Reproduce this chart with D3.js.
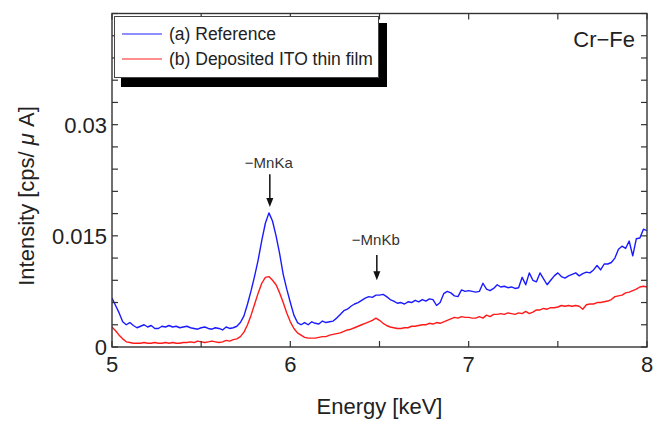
<!DOCTYPE html>
<html>
<head>
<meta charset="utf-8">
<script src="https://cdn.jsdelivr.net/npm/d3@7"></script>
<style>
  body { margin: 0; background: #fff; }
  svg { display: block; font-family: "Liberation Sans", Arial, sans-serif; }
</style>
</head>
<body>
<svg id="chart" width="654" height="423"></svg>
<script>
// XRF spectrum channels: 5.00 – 8.00 keV in 0.02 keV steps
const energyStart = 5.0;
const energyStep = 0.02;

// (a) Reference  [cps/μA]
const referenceCounts = [
  0.0066, 0.0056, 0.0046, 0.0034, 0.0030, 0.0033, 0.0029, 0.0026, 0.0028, 0.0030,
  0.0027, 0.0029, 0.0025, 0.0025, 0.0028, 0.0027, 0.0029, 0.0027, 0.0028, 0.0026,
  0.0027, 0.0028, 0.0026, 0.0025, 0.0024, 0.0026, 0.0027, 0.0025, 0.0024, 0.0026,
  0.0025, 0.0023, 0.0027, 0.0025, 0.0026, 0.0028, 0.0033, 0.0042, 0.0058, 0.0076,
  0.0096, 0.0118, 0.0144, 0.0167, 0.0181, 0.0170, 0.0150, 0.0126, 0.0098, 0.0078,
  0.0060, 0.0043, 0.0033, 0.0030, 0.0033, 0.0030, 0.0034, 0.0032, 0.0031, 0.0035,
  0.0033, 0.0034, 0.0035, 0.0039, 0.0044, 0.0049, 0.0051, 0.0055, 0.0058, 0.0060,
  0.0063, 0.0066, 0.0068, 0.0067, 0.0070, 0.0070, 0.0071, 0.0068, 0.0064, 0.0062,
  0.0059, 0.0060, 0.0058, 0.0061, 0.0060, 0.0063, 0.0061, 0.0064, 0.0062, 0.0065,
  0.0064, 0.0056, 0.0060, 0.0072, 0.0075, 0.0073, 0.0069, 0.0068, 0.0077, 0.0075,
  0.0076, 0.0075, 0.0074, 0.0075, 0.0086, 0.0078, 0.0076, 0.0079, 0.0084, 0.0081,
  0.0082, 0.0080, 0.0081, 0.0079, 0.0080, 0.0094, 0.0084, 0.0100, 0.0090, 0.0088,
  0.0100, 0.0092, 0.0084, 0.0090, 0.0096, 0.0100, 0.0095, 0.0093, 0.0096, 0.0098,
  0.0100, 0.0096, 0.0099, 0.0101, 0.0100, 0.0104, 0.0110, 0.0104, 0.0112, 0.0112,
  0.0114, 0.0120, 0.0132, 0.0136, 0.0133, 0.0143, 0.0123, 0.0146, 0.0147, 0.0159,
  0.0157
];

// (b) Deposited ITO thin film  [cps/μA]
const filmCounts = [
  0.0027, 0.0022, 0.0016, 0.0011, 0.0007, 0.0006, 0.0005, 0.0005, 0.0005, 0.0006,
  0.0005, 0.0005, 0.0006, 0.0005, 0.0005, 0.0006, 0.0005, 0.0006, 0.0005, 0.0005,
  0.0006, 0.0006, 0.0007, 0.0006, 0.0008, 0.0007, 0.0006, 0.0007, 0.0008, 0.0007,
  0.0006, 0.0007, 0.0009, 0.0008, 0.0010, 0.0011, 0.0014, 0.0020, 0.0030, 0.0043,
  0.0058, 0.0073, 0.0086, 0.0094, 0.0095, 0.0090, 0.0084, 0.0073, 0.0060, 0.0046,
  0.0034, 0.0025, 0.0019, 0.0016, 0.0013, 0.0012, 0.0012, 0.0012, 0.0013, 0.0014,
  0.0014, 0.0016, 0.0017, 0.0018, 0.0019, 0.0021, 0.0023, 0.0024, 0.0026, 0.0028,
  0.0030, 0.0032, 0.0034, 0.0036, 0.0039, 0.0036, 0.0032, 0.0029, 0.0027, 0.0026,
  0.0025, 0.0025, 0.0026, 0.0026, 0.0028, 0.0028, 0.0029, 0.0030, 0.0030, 0.0032,
  0.0031, 0.0033, 0.0032, 0.0034, 0.0036, 0.0038, 0.0040, 0.0039, 0.0041, 0.0040,
  0.0040, 0.0039, 0.0039, 0.0041, 0.0039, 0.0043, 0.0041, 0.0044, 0.0044, 0.0045,
  0.0044, 0.0046, 0.0045, 0.0044, 0.0046, 0.0045, 0.0048, 0.0045, 0.0047, 0.0050,
  0.0050, 0.0052, 0.0051, 0.0053, 0.0053, 0.0054, 0.0056, 0.0055, 0.0056, 0.0055,
  0.0056, 0.0055, 0.0051, 0.0057, 0.0058, 0.0058, 0.0060, 0.0060, 0.0061, 0.0062,
  0.0064, 0.0068, 0.0069, 0.0070, 0.0073, 0.0074, 0.0076, 0.0078, 0.0081, 0.0082,
  0.0081
];

const seriesNames = ["(a) Reference", "(b) Deposited ITO thin film"];
const seriesColors = ["#1a1aff", "#ff1a1a"];

const xTickValues = [5, 6, 7, 8];
const xTickLabels = ["5", "6", "7", "8"];
const xMinorTicks = [5, 5.5, 6, 6.5, 7, 7.5, 8];
const yTickValues = [0, 0.015, 0.03];
const yTickLabels = ["0", "0.015", "0.03"];
const yMinorTicks = d3.range(0, 0.0451, 0.003);

// Peak markers: label, energy, arrow top / tip intensities, label baseline
const peakLabels = ["−MnKa", "−MnKb"];
const peakEnergies = [5.885, 6.485];
const peakArrowTop = [0.0233, 0.0124];
const peakArrowTip = [0.0189, 0.0090];
const peakTextLevel = [0.0242, 0.0138];

const panelLabel = "Cr−Fe";

const svg = d3.select("#chart");
const plot = { left: 112, right: 647, top: 13.5, bottom: 347 };

const x = d3.scaleLinear().domain([5, 8]).range([plot.left, plot.right]);
const y = d3.scaleLinear().domain([0, 0.045]).range([plot.bottom, plot.top]);

const energies = referenceCounts.map((_, i) => energyStart + i * energyStep);

svg.append("defs").append("clipPath").attr("id", "plot-clip")
  .append("rect")
  .attr("x", plot.left).attr("y", plot.top)
  .attr("width", plot.right - plot.left).attr("height", plot.bottom - plot.top);

// spectra
const line = d3.line()
  .x((d, i) => x(energies[i]))
  .y(d => y(d));

[referenceCounts, filmCounts].forEach((vals, k) => {
  svg.append("path")
    .datum(vals)
    .attr("clip-path", "url(#plot-clip)")
    .attr("fill", "none")
    .attr("stroke", seriesColors[k])
    .attr("stroke-width", 1.4)
    .attr("stroke-linejoin", "round")
    .attr("d", line);
});

// inward ticks on all four sides
const tickLen = 6;
const axisColor = "#333";
const ticks = svg.append("g").attr("stroke", axisColor).attr("stroke-width", 1.2);
xMinorTicks.forEach(v => {
  ticks.append("line").attr("x1", x(v)).attr("x2", x(v))
    .attr("y1", plot.bottom).attr("y2", plot.bottom - tickLen);
  ticks.append("line").attr("x1", x(v)).attr("x2", x(v))
    .attr("y1", plot.top).attr("y2", plot.top + tickLen);
});
yMinorTicks.forEach(v => {
  ticks.append("line").attr("x1", plot.left).attr("x2", plot.left + tickLen)
    .attr("y1", y(v)).attr("y2", y(v));
  ticks.append("line").attr("x1", plot.right).attr("x2", plot.right - tickLen)
    .attr("y1", y(v)).attr("y2", y(v));
});

// frame
svg.append("rect")
  .attr("x", plot.left).attr("y", plot.top)
  .attr("width", plot.right - plot.left).attr("height", plot.bottom - plot.top)
  .attr("fill", "none").attr("stroke", axisColor).attr("stroke-width", 1.4);

// tick labels
svg.append("g").selectAll("text").data(xTickValues).join("text")
  .attr("x", d => x(d)).attr("y", 372)
  .attr("text-anchor", "middle").attr("font-size", 22).attr("fill", "#222")
  .text((d, i) => xTickLabels[i]);

svg.append("g").selectAll("text").data(yTickValues).join("text")
  .attr("x", plot.left - 5).attr("y", d => y(d))
  .attr("dy", "0.36em")
  .attr("text-anchor", "end").attr("font-size", 22).attr("fill", "#222")
  .text((d, i) => yTickLabels[i]);

// axis titles
svg.append("text")
  .attr("x", (plot.left + plot.right) / 2).attr("y", 414)
  .attr("text-anchor", "middle").attr("font-size", 22).attr("fill", "#222")
  .text("Energy [keV]");

const yTitle = svg.append("text")
  .attr("transform", "translate(33.5,196) rotate(-90)")
  .attr("text-anchor", "middle").attr("font-size", 22).attr("fill", "#222");
yTitle.append("tspan").text("Intensity [cps/ ");
yTitle.append("tspan").attr("font-style", "italic").text("μ");
yTitle.append("tspan").text(" A]");

// panel label
svg.append("text")
  .attr("x", 635).attr("y", 47)
  .attr("text-anchor", "end").attr("font-size", 22).attr("fill", "#222")
  .text(panelLabel);

// peak annotations with arrows
const ann = svg.append("g");
peakLabels.forEach((lab, i) => {
  const px = x(peakEnergies[i]);
  ann.append("text")
    .attr("x", px - 1).attr("y", y(peakTextLevel[i]))
    .attr("text-anchor", "middle").attr("font-size", 15).attr("fill", "#333")
    .text(lab);
  const yTop = y(peakArrowTop[i]);
  const yTip = y(peakArrowTip[i]);
  ann.append("line")
    .attr("x1", px).attr("x2", px)
    .attr("y1", yTop).attr("y2", yTip - 6)
    .attr("stroke", "#111").attr("stroke-width", 1.5);
  ann.append("path")
    .attr("d", `M${px - 3.5},${yTip - 9} L${px + 3.5},${yTip - 9} L${px},${yTip} Z`)
    .attr("fill", "#111");
});

// legend with drop shadow
const legend = svg.append("g");
legend.append("rect")
  .attr("x", 121).attr("y", 23).attr("width", 266).attr("height", 64)
  .attr("fill", "#000");
legend.append("rect")
  .attr("x", 114.5).attr("y", 16.5).attr("width", 264).attr("height", 61)
  .attr("fill", "#fff").attr("stroke", "#444").attr("stroke-width", 1);
seriesNames.forEach((name, i) => {
  const ly = 34 + i * 25;
  legend.append("line")
    .attr("x1", 122).attr("x2", 162).attr("y1", ly).attr("y2", ly)
    .attr("stroke", seriesColors[i]).attr("stroke-width", 1.4).attr("opacity", 0.65);
  legend.append("text")
    .attr("x", 169).attr("y", ly + 6)
    .attr("font-size", 17.5).attr("fill", "#222")
    .text(name);
});
</script>
</body>
</html>
